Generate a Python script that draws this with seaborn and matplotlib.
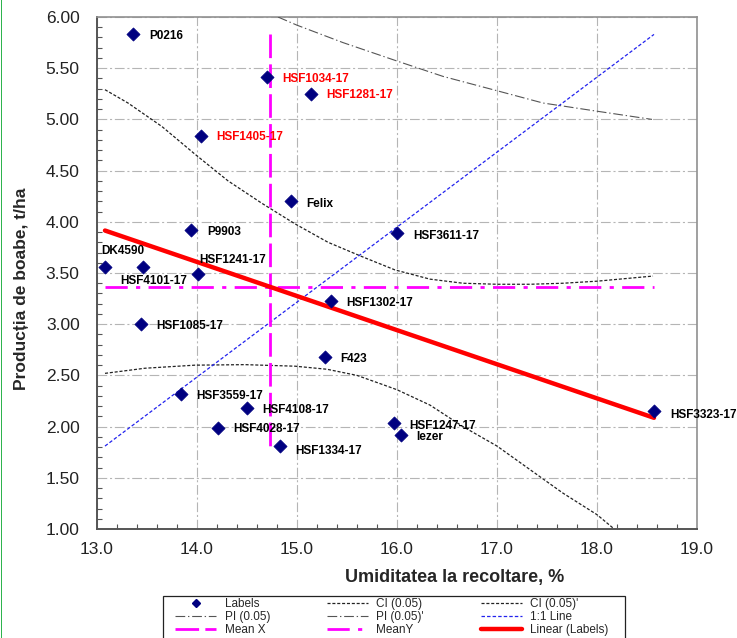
import numpy as np
import pandas as pd
import matplotlib
matplotlib.use("Agg")
import matplotlib.pyplot as plt
import seaborn as sns
from matplotlib.lines import Line2D
from matplotlib.patches import Rectangle
from matplotlib.ticker import MultipleLocator, FormatStrFormatter

# ---------------- data ----------------
names = ["P0216", "HSF1034-17", "HSF1281-17", "HSF1405-17", "Felix", "P9903",
         "HSF3611-17", "DK4590", "HSF4101-17", "HSF1241-17", "HSF1302-17",
         "HSF1085-17", "F423", "HSF3559-17", "HSF4108-17", "HSF4028-17",
         "HSF1334-17", "HSF1247-17", "Iezer", "HSF3323-17"]
moisture = [13.36, 14.70, 15.14, 14.04, 14.94, 13.94, 16.00, 13.08, 13.46, 14.01,
            15.34, 13.44, 15.28, 13.84, 14.50, 14.21, 14.83, 15.97, 16.04, 18.57]
yield_t = [5.83, 5.41, 5.25, 4.84, 4.20, 3.92, 3.89, 3.56, 3.56, 3.49,
           3.23, 3.00, 2.68, 2.32, 2.18, 1.99, 1.81, 2.04, 1.92, 2.15]
highlighted = ["HSF1034-17", "HSF1281-17", "HSF1405-17"]

ci_up_x = [13.08, 13.31, 13.65, 13.98, 14.31, 14.65, 14.98, 15.31, 15.65,
           15.98, 16.33, 16.66, 17.00, 17.33, 17.66, 18.00, 18.56]
ci_up_y = [5.29, 5.16, 4.93, 4.66, 4.40, 4.18, 3.98, 3.80, 3.66,
           3.53, 3.44, 3.40, 3.39, 3.39, 3.40, 3.42, 3.47]
ci_lo_x = [13.08, 13.48, 13.98, 14.48, 14.98, 15.30, 15.60, 15.83, 16.00, 16.33,
           16.66, 17.00, 17.33, 17.66, 18.00, 18.16]
ci_lo_y = [2.52, 2.57, 2.60, 2.605, 2.59, 2.56, 2.50, 2.42, 2.36, 2.21,
           2.00, 1.81, 1.58, 1.35, 1.14, 1.01]
pi_up_x = [14.81, 15.00, 15.46, 16.00, 16.46, 17.00, 17.46, 18.00, 18.55]
pi_up_y = [6.00, 5.92, 5.75, 5.57, 5.42, 5.28, 5.16, 5.08, 5.00]

x_ticks = [13.0, 14.0, 15.0, 16.0, 17.0, 18.0, 19.0]
y_ticks = [1.00, 1.50, 2.00, 2.50, 3.00, 3.50, 4.00, 4.50, 5.00, 5.50, 6.00]

# label offsets in pixels (dx, dy)
label_offsets = {
    "P0216": (16, 0), "HSF1034-17": (15, 0), "HSF1281-17": (15, 0),
    "HSF1405-17": (15, 0), "Felix": (15, -1), "P9903": (16, -1),
    "HSF3611-17": (16, -1), "DK4590": (-4, 17), "HSF4101-17": (-23, -13),
    "HSF1241-17": (1, 16), "HSF1302-17": (15, -1), "HSF1085-17": (15, 0),
    "F423": (15, -1), "HSF3559-17": (15, -1), "HSF4108-17": (15, 0),
    "HSF4028-17": (15, 0), "HSF1334-17": (15, -3), "HSF1247-17": (15, -2),
    "Iezer": (15, -1), "HSF3323-17": (16, -2),
}

df = pd.DataFrame({"name": names, "x": moisture, "y": yield_t})

# ---------------- style ----------------
sns.set_theme(style="white")
plt.rcParams["font.family"] = ["Liberation Sans", "DejaVu Sans"]
plt.rcParams["lines.scale_dashes"] = False

W, H = 737, 638
fig = plt.figure(figsize=(W / 100, H / 100), dpi=100)
fig.patch.set_facecolor("white")
ax = fig.add_axes([97 / W, 1 - 529 / H, 600 / W, 512 / H])

# grid
ax.set_axisbelow(True)
ax.grid(True, which="major", color="#b5b5b5", lw=0.8, linestyle=(0, (7, 2, 1.5, 2)))

# CI / PI curves
sns.lineplot(x=ci_up_x, y=ci_up_y, ax=ax, color="#222222", lw=0.9,
             linestyle=(0, (2.2, 1.3)), estimator=None, sort=False, zorder=3)
sns.lineplot(x=ci_lo_x, y=ci_lo_y, ax=ax, color="#222222", lw=0.9,
             linestyle=(0, (2.2, 1.3)), estimator=None, sort=False, zorder=3)
sns.lineplot(x=pi_up_x, y=pi_up_y, ax=ax, color="#555555", lw=0.8,
             linestyle=(0, (7, 2, 1, 2)), estimator=None, sort=False, zorder=3)

# 1:1 line
xmin, xmax = min(moisture), max(moisture)
ymin, ymax = min(yield_t), max(yield_t)
sns.lineplot(x=[xmin, xmax], y=[ymin, ymax], ax=ax, color="#2222ee", lw=0.9,
             linestyle=(0, (2.5, 1.5)), estimator=None, sort=False, zorder=3)

# mean lines
mx, my = np.mean(moisture), np.mean(yield_t)
sns.lineplot(x=[mx, mx], y=[ymax, ymin], ax=ax, color="#ff00ff", lw=2.0,
             linestyle=(0, (17, 4.5)), estimator=None, sort=False, zorder=4)
sns.lineplot(x=[xmin, xmax], y=[my, my], ax=ax, color="#ff00ff", lw=2.0,
             linestyle=(0, (16, 6, 3, 6)), estimator=None, sort=False, zorder=4)

# linear fit
slope, intercept = np.polyfit(moisture, yield_t, 1)
fx = np.array([xmin, xmax])
sns.lineplot(x=fx, y=intercept + slope * fx, ax=ax, color="#ff0000", lw=3.2,
             estimator=None, sort=False, zorder=5)

# points
sns.scatterplot(data=df, x="x", y="y", ax=ax, marker="D", s=45, color="#000080",
                edgecolor="#000080", linewidth=0.5, zorder=6)

for n, xv, yv in zip(names, moisture, yield_t):
    dx, dy = label_offsets[n]
    ax.annotate(n, (xv, yv), xytext=(dx, dy), textcoords="offset pixels",
                ha="left", va="center_baseline", fontsize=8.5, fontweight="bold",
                color="#ff0000" if n in highlighted else "black", zorder=7)

# axes
ax.set_xlim(13.0, 19.0)
ax.set_ylim(1.0, 6.0)
ax.set_xticks(x_ticks)
ax.set_yticks(y_ticks)
ax.xaxis.set_major_formatter(FormatStrFormatter("%.1f"))
ax.yaxis.set_major_formatter(FormatStrFormatter("%.2f"))
ax.xaxis.set_minor_locator(MultipleLocator(0.2))
ax.yaxis.set_minor_locator(MultipleLocator(0.1))
ax.tick_params(which="major", direction="inout", length=7, width=1.0,
               color="#555555", labelsize=12.5, labelcolor="#222222")
ax.tick_params(axis="y", which="major", pad=9)
ax.tick_params(axis="x", which="major", pad=6)
ax.tick_params(which="minor", direction="in", length=3.5, width=0.8,
               color="#555555", bottom=True, left=True)
for side in ["left", "bottom"]:
    ax.spines[side].set_color("#555555")
    ax.spines[side].set_linewidth(1.4)
for side in ["top", "right"]:
    ax.spines[side].set_color("#909090")
    ax.spines[side].set_linewidth(1.2)

ax.set_xlabel("Umiditatea la recoltare, %", fontsize=13, fontweight="bold")
ax.set_ylabel("Producția de boabe, t/ha", fontsize=12.5, fontweight="bold")
ax.xaxis.set_label_coords((455 - 97) / 600, (529 - 569) / 512)
ax.yaxis.set_label_coords((29 - 97) / 600, (529 - 289) / 512)

# legend
handles = [
    Line2D([], [], color="#000080", marker="D", ms=4, lw=0),
    Line2D([], [], color="#555555", lw=0.8, linestyle=(0, (7, 2, 1, 2))),
    Line2D([], [], color="#ff00ff", lw=2.0, linestyle=(0, (17, 4.5))),
    Line2D([], [], color="#222222", lw=0.9, linestyle=(0, (2.2, 1.3))),
    Line2D([], [], color="#555555", lw=0.8, linestyle=(0, (7, 2, 1, 2))),
    Line2D([], [], color="#ff00ff", lw=2.0, linestyle=(0, (16, 6, 3, 6))),
    Line2D([], [], color="#222222", lw=0.9, linestyle=(0, (2.2, 1.3))),
    Line2D([], [], color="#2222ee", lw=0.9, linestyle=(0, (2.5, 1.5))),
    Line2D([], [], color="#ff0000", lw=3.2),
]
labels = ["Labels", "PI (0.05)", "Mean X",
          "CI (0.05)", "PI (0.05)'", "MeanY",
          "CI (0.05)'", "1:1 Line", "Linear (Labels)"]
fig.patches.append(Rectangle((163 / W, 1 - 646 / H), 462 / W, 50 / H,
                             transform=fig.transFigure, facecolor="white",
                             edgecolor="#222222", lw=0.9, zorder=1))
fig.legend(handles, labels, ncol=3, loc="upper left",
           bbox_to_anchor=(175 / W, 1 - 598 / H), frameon=False, fontsize=8.5,
           borderpad=0, borderaxespad=0, handlelength=3.5, handletextpad=0.7,
           columnspacing=4.8, labelspacing=0.07)

# green border at the left edge
fig.patches.append(Rectangle((0.5 / W, 0), 2.0 / W, 1, transform=fig.transFigure,
                             facecolor="#2eb34e", edgecolor="none", zorder=2))

fig.savefig("out.png", dpi=100)
